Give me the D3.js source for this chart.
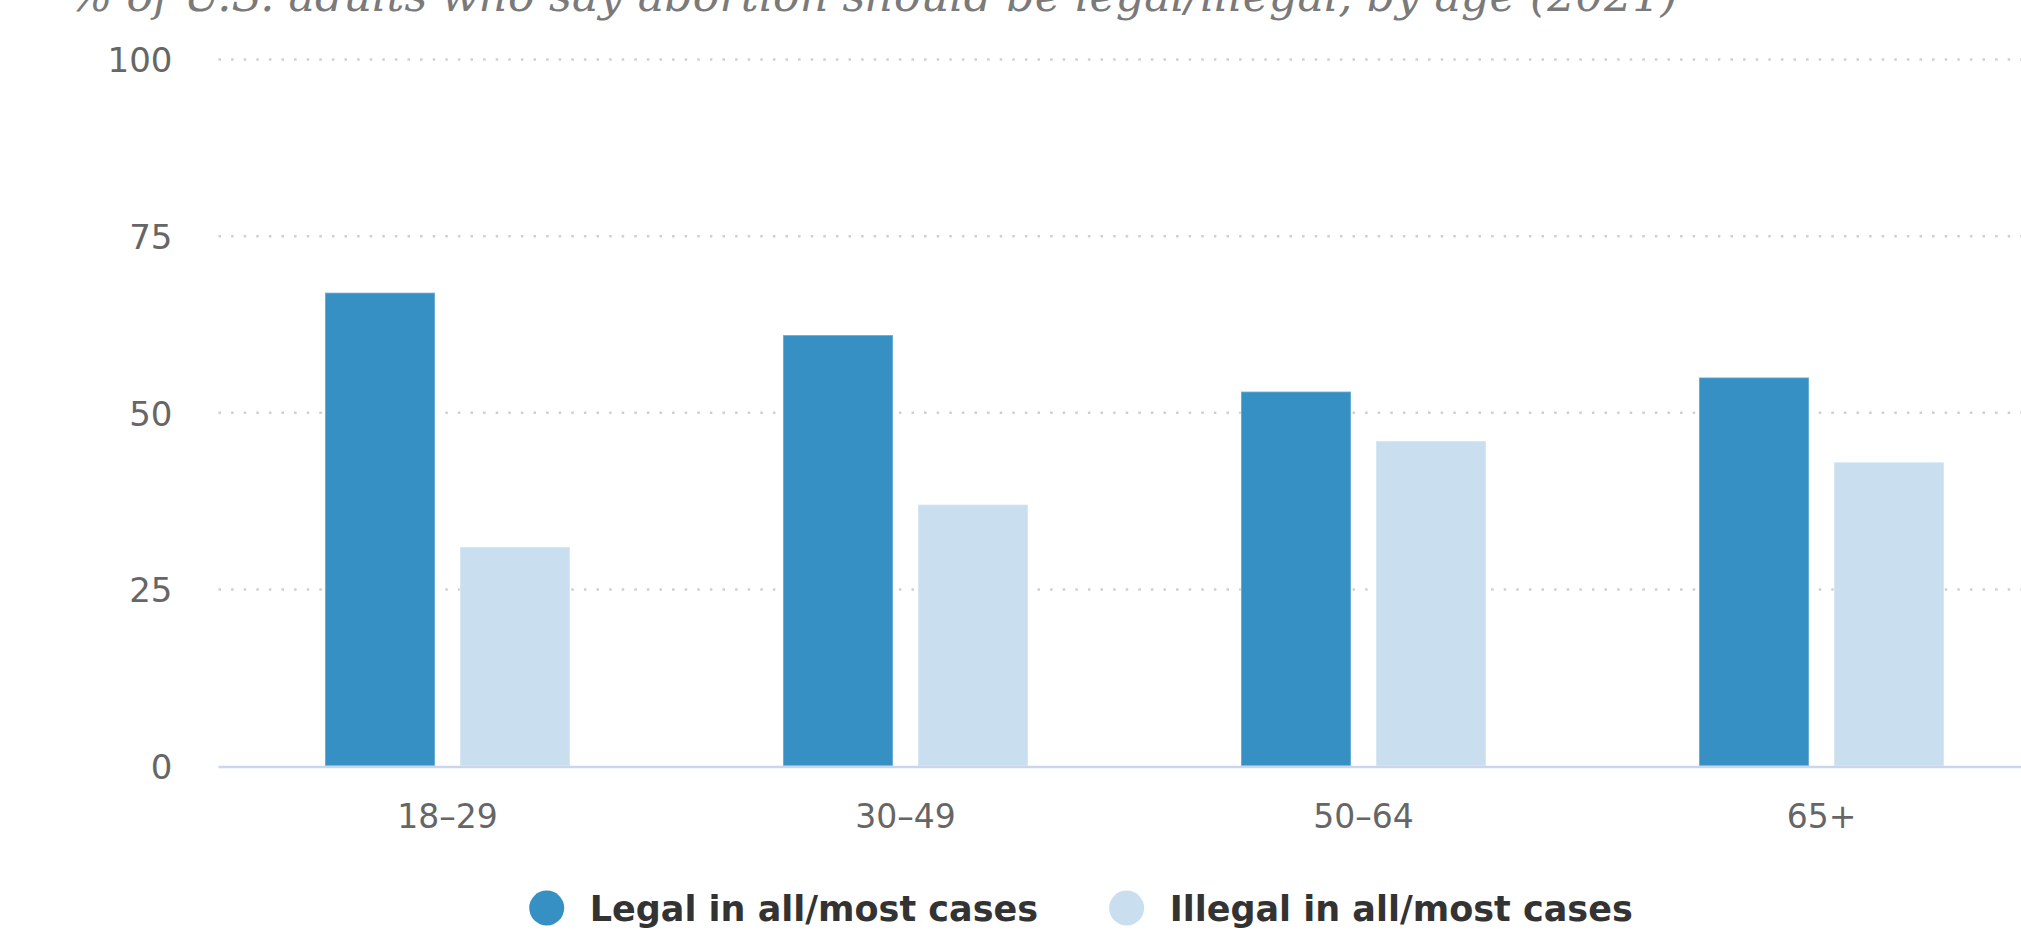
<!DOCTYPE html>
<html>
<head>
<meta charset="utf-8">
<script src="https://cdn.jsdelivr.net/npm/d3@7"></script>
<style>
  html, body { margin: 0; padding: 0; background: #ffffff; overflow: hidden; }
  svg { display: block; }
</style>
</head>
<body>
<svg id="chart" width="2021" height="934"></svg>
<script>
// Survey shares by age group (percent)
const chartTitle = "% of U.S. adults who say abortion should be legal/illegal, by age (2021)";
const ageGroups = ["18–29", "30–49", "50–64", "65+"];
const seriesNames = ["Legal in all/most cases", "Illegal in all/most cases"];
const legalValues = [67, 61, 53, 55];
const illegalValues = [31, 37, 46, 43];
const yTicks = [0, 25, 50, 75, 100];
const seriesColors = ["#3790c3", "#c9deee"];

const seriesValues = [legalValues, illegalValues];

const W = 2021, H = 934;
const plot = { left: 218.5, right: 2050.5, top: 59.5, bottom: 766 };

const svg = d3.select("#chart");

// Scales
const x0 = d3.scaleBand()
  .domain(ageGroups)
  .range([plot.left, plot.right])
  .paddingInner(0.465)
  .paddingOuter(0.2325);

const x1 = d3.scaleBand()
  .domain(seriesNames)
  .range([0, x0.bandwidth()])
  .paddingInner(0.185);

const y = d3.scaleLinear()
  .domain([0, 100])
  .range([plot.bottom, plot.top]);

const color = d3.scaleOrdinal().domain(seriesNames).range(seriesColors);

// Title (runs off the top edge of the canvas)
svg.append("text")
  .attr("x", 70)
  .attr("y", 11)
  .attr("font-family", "'DejaVu Serif', Georgia, serif")
  .attr("font-style", "italic")
  .attr("font-size", 44.5)
  .attr("fill", "#7a7a7a")
  .text(chartTitle);

// Dotted horizontal grid
svg.append("g")
  .selectAll("line")
  .data(yTicks.filter(d => d !== 0))
  .join("line")
  .attr("x1", plot.left)
  .attr("x2", W)
  .attr("y1", d => y(d))
  .attr("y2", d => y(d))
  .attr("stroke", "#cfcfcf")
  .attr("stroke-width", 2.5)
  .attr("stroke-dasharray", "2.5 10.1");

// Y axis labels (no axis line)
const yAxis = d3.axisLeft(y).tickValues(yTicks).tickSize(0).tickPadding(0);
const yG = svg.append("g")
  .attr("transform", `translate(${plot.left - 46},0)`)
  .call(yAxis);
yG.select(".domain").remove();
yG.selectAll("text")
  .attr("font-family", "'DejaVu Sans', Verdana, sans-serif")
  .attr("font-size", 34)
  .attr("fill", "#666666")
  .attr("dy", "0.36em");

// Bars
const groups = svg.append("g")
  .selectAll("g")
  .data(ageGroups.map((g, i) => ({ group: g, values: seriesNames.map((s, k) => ({ series: s, value: seriesValues[k][i] })) })))
  .join("g")
  .attr("transform", d => `translate(${x0(d.group)},0)`);

groups.selectAll("rect")
  .data(d => d.values)
  .join("rect")
  .attr("x", d => x1(d.series))
  .attr("width", x1.bandwidth())
  .attr("y", d => y(d.value))
  .attr("height", d => y(0) - y(d.value))
  .attr("fill", d => color(d.series))
  .attr("stroke", "#ffffff")
  .attr("stroke-opacity", 0.35)
  .attr("stroke-width", 1.5);

// X axis baseline and category labels
svg.append("line")
  .attr("x1", plot.left)
  .attr("x2", W)
  .attr("y1", y(0) + 1)
  .attr("y2", y(0) + 1)
  .attr("stroke", "#ccd6eb")
  .attr("stroke-width", 2.5);

const xAxis = d3.axisBottom(x0).tickSize(0).tickPadding(0);
const xG = svg.append("g")
  .attr("transform", `translate(0,${plot.bottom})`)
  .call(xAxis);
xG.select(".domain").remove();
xG.selectAll("text")
  .attr("font-family", "'DejaVu Sans', Verdana, sans-serif")
  .attr("font-size", 33)
  .attr("fill", "#666666")
  .attr("dy", null)
  .attr("y", 62);

// Legend: symbol, label, then a fixed gap before the next item
const symbolR = 17.5;
const labelOffset = 43;
const itemGap = 71;
const legend = svg.append("g");
const items = legend.selectAll("g")
  .data(seriesNames)
  .join("g");
items.append("circle")
  .attr("r", symbolR)
  .attr("cx", 0)
  .attr("cy", 908)
  .attr("fill", d => color(d));
items.append("text")
  .attr("x", labelOffset)
  .attr("y", 921)
  .attr("font-family", "'DejaVu Sans', Verdana, sans-serif")
  .attr("font-weight", "bold")
  .attr("font-size", 35)
  .attr("fill", "#333333")
  .text(d => d);

const offsets = [];
let cursor = 0;
let legendRight = 0;
items.each(function () {
  offsets.push(cursor);
  const tw = d3.select(this).select("text").node().getComputedTextLength();
  legendRight = cursor + labelOffset + tw;
  cursor = legendRight + itemGap + symbolR;
});
const legendWidth = legendRight + symbolR;
const legendCenter = 1081;
const startX = legendCenter - legendWidth / 2 + symbolR;
items.attr("transform", (d, i) => `translate(${startX + offsets[i]},0)`);
</script>
</body>
</html>
